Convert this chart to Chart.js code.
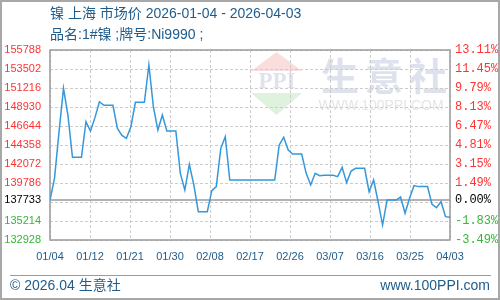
<!DOCTYPE html>
<html>
<head>
<meta charset="utf-8">
<script src="https://cdn.jsdelivr.net/npm/chart.js@4.4.1/dist/chart.umd.min.js"></script>
<style>
    html, body { margin: 0; padding: 0; background: #fff; }
    canvas { display: block; }
</style>
</head>
<body>
<canvas id="priceChart" width="500" height="300"></canvas>
<script>
// ============================================
// 镍 上海 市场价 - daily price line
// ============================================

const basePrice = 137733;
const xTickLabels = ['01/04', '01/12', '01/21', '01/30', '02/08', '02/17', '02/26', '03/07', '03/16', '03/25', '04/03'];
const yTickValues = [132928, 135214, 137500, 139786, 142072, 144358, 146644, 148930, 151216, 153502, 155788];

// one value per day, 2026-01-04 .. 2026-04-03
const prices = [
    137733, 140350, 145880, 151180, 147890, 142870, 142870, 142870, 147170, 146040,
    147650, 149570, 149130, 149130, 149130, 146360, 145520, 145160, 146560, 149490,
    149490, 149490, 153980, 148970, 146160, 147970, 146040, 146040, 146040, 140950,
    138940, 142030, 139550, 136340, 136340, 136340, 138860, 139350, 143960, 145360,
    140150, 140150, 140150, 140150, 140150, 140150, 140150, 140150, 140150, 140150,
    140150, 144360, 145280, 143760, 143280, 143280, 143280, 140950, 139550, 140950,
    140670, 140710, 140710, 140710, 140550, 141670, 139830, 141230, 141550, 141550,
    141550, 138740, 140150, 137540, 134730, 137740, 137740, 137740, 138100, 136140,
    137940, 139470, 139350, 139350, 139350, 137220, 136820, 137540, 135740, 135660
];

const titleLines = ['镍 上海 市场价 2026-01-04 - 2026-04-03', '品名:1#镍 ;牌号:Ni9990 ;'];
const footerLeft = '© 2026.04 生意社';
const footerRight = 'www.100PPI.com';

const TEXT_BLUE = '#1f5c8b';
const UP_RED = '#ff3333';
const DOWN_GREEN = '#33b833';
const FRAME_GRAY = '#9a9a9a';

function tickColor(ctx) {
    const v = ctx.tick.value;
    if (v > basePrice) return UP_RED;
    if (v < basePrice) return DOWN_GREEN;
    return '#000';
}

// the base tick replaces the grid label nearest to it
function hiddenTick(v) { return v !== basePrice && Math.abs(v - basePrice) < 1000; }

function buildYTicks(axis) {
    axis.ticks = yTickValues.concat([basePrice]).sort((a, b) => a - b).map(v => ({ value: v }));
}

const decorPlugin = {
    id: 'decor',
    beforeDraw(chart) {
        const ctx = chart.ctx;
        ctx.save();
        ctx.fillStyle = '#fff';
        ctx.fillRect(0, 0, chart.width, chart.height);

        // watermark logo
        ctx.fillStyle = '#fadede';
        ctx.beginPath(); ctx.moveTo(251, 71); ctx.lineTo(302, 71); ctx.lineTo(276.5, 52); ctx.closePath(); ctx.fill();
        ctx.fillStyle = '#def2de';
        ctx.beginPath(); ctx.moveTo(251, 93); ctx.lineTo(302, 93); ctx.lineTo(276.5, 115); ctx.closePath(); ctx.fill();
        ctx.fillStyle = '#dfe3ee';
        ctx.font = 'bold 23px "Liberation Serif"';
        ctx.textAlign = 'center';
        ctx.textBaseline = 'middle';
        ctx.fillText('PPI', 277, 82);

        ctx.font = 'bold 38px "Noto Sans CJK SC"';
        ctx.fillStyle = '#dde2ec';
        ['生', '意', '社'].forEach((ch, i) => ctx.fillText(ch, 340 + i * 44, 76));
        ctx.font = '14px "Liberation Sans"';
        ctx.fillStyle = '#e5e5e5';
        ctx.fillText('WWW.100PPI.COM', 381, 106);
        ctx.restore();
    },
    beforeDatasetsDraw(chart) {
        const { ctx, chartArea, scales } = chart;
        const y = scales.y.getPixelForValue(basePrice);
        ctx.save();
        ctx.strokeStyle = FRAME_GRAY;
        ctx.lineWidth = 1.5;
        ctx.beginPath();
        ctx.moveTo(chartArea.left, y);
        ctx.lineTo(chartArea.right, y);
        ctx.stroke();
        ctx.strokeRect(chartArea.left, chartArea.top, chartArea.right - chartArea.left, chartArea.bottom - chartArea.top);
        ctx.restore();
    },
    afterDraw(chart) {
        const ctx = chart.ctx;
        ctx.save();
        ctx.fillStyle = TEXT_BLUE;
        ctx.textBaseline = 'middle';
        ctx.font = '14px "Liberation Sans", "Noto Sans CJK SC"';
        ctx.textAlign = 'left';
        ctx.fillText(titleLines[0], 50, 14);
        ctx.fillText(titleLines[1], 50, 35);

        ctx.fillText(footerLeft, 10, 286);
        ctx.textAlign = 'right';
        ctx.fillText(footerRight, 490, 286);

        ctx.strokeStyle = FRAME_GRAY;
        ctx.lineWidth = 1;
        ctx.beginPath();
        ctx.moveTo(10, 275.5);
        ctx.lineTo(491, 275.5);
        ctx.stroke();

        ctx.strokeStyle = '#a8a8a8';
        ctx.lineWidth = 2;
        ctx.strokeRect(1, 1, chart.width - 2, chart.height - 2);
        ctx.restore();
    }
};

const chart = new Chart(document.getElementById('priceChart').getContext('2d'), {
    type: 'line',
    data: {
        datasets: [{
            data: prices.map((p, i) => ({ x: i, y: p })),
            borderColor: '#3498db',
            borderWidth: 1.5,
            pointRadius: 0,
            tension: 0,
            fill: false
        }]
    },
    options: {
        responsive: false,
        animation: false,
        devicePixelRatio: 1,
        layout: { padding: { top: 50, left: 0, right: 0, bottom: 0 } },
        plugins: { legend: { display: false }, tooltip: { enabled: false }, title: { display: false } },
        scales: {
            x: {
                type: 'linear',
                min: 0,
                max: prices.length - 1,
                afterBuildTicks: (axis) => {
                    const step = (prices.length - 1) / (xTickLabels.length - 1);
                    axis.ticks = xTickLabels.map((_, i) => ({ value: i * step }));
                },
                afterFit: (axis) => { axis.height = 60; },
                grid: { color: '#cccccc', drawTicks: false, lineWidth: 1 },
                border: { display: false, dash: [3, 2] },
                ticks: {
                    autoSkip: false,
                    maxRotation: 0,
                    padding: 10,
                    color: TEXT_BLUE,
                    font: { family: '"Liberation Sans"', size: 11 },
                    callback: (v, i) => xTickLabels[i]
                }
            },
            y: {
                position: 'left',
                min: yTickValues[0],
                max: yTickValues[yTickValues.length - 1],
                afterBuildTicks: buildYTicks,
                afterFit: (axis) => { axis.width = 50; },
                grid: {
                    color: (ctx) => (ctx.tick && ctx.tick.value === basePrice) ? 'rgba(0,0,0,0)' : '#cccccc',
                    drawTicks: false,
                    lineWidth: 1
                },
                border: { display: false, dash: [3, 2] },
                ticks: {
                    autoSkip: false,
                    padding: 9,
                    color: tickColor,
                    font: { family: '"Liberation Sans"', size: 11 },
                    callback: (v) => hiddenTick(v) ? '' : String(v)
                }
            },
            y2: {
                position: 'right',
                min: yTickValues[0],
                max: yTickValues[yTickValues.length - 1],
                afterBuildTicks: buildYTicks,
                afterFit: (axis) => { axis.width = 50; },
                grid: { display: false, drawTicks: false },
                border: { display: false },
                ticks: {
                    autoSkip: false,
                    padding: 5,
                    color: tickColor,
                    font: { family: '"Liberation Mono"', size: 12 },
                    callback: (v) => hiddenTick(v) ? '' : ((v / basePrice - 1) * 100).toFixed(2) + '%'
                }
            }
        }
    },
    plugins: [decorPlugin]
});
</script>
</body>
</html>
